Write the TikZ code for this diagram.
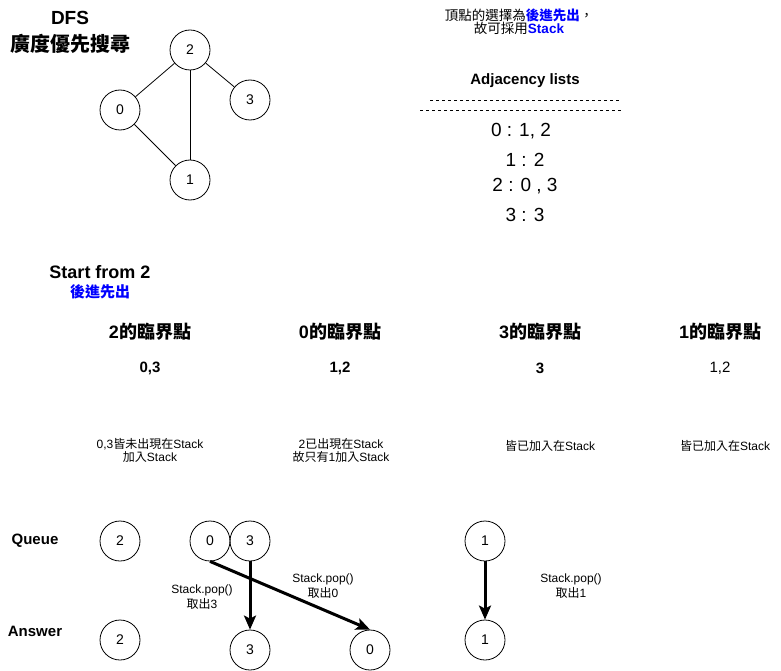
\documentclass[tikz,border=0pt]{standalone}
\usepackage{fontspec}
\setmainfont{Liberation Sans}
\newfontfamily\cjk{Noto Sans CJK TC}
\usetikzlibrary{arrows.meta}
\definecolor{lifo}{RGB}{0,0,255}
\newcommand{\fs}[1]{\fontsize{#1}{#1}\selectfont}
\begin{document}
\begin{tikzpicture}[x=1pt,y=-1pt,
    vertex/.style={circle, draw, line width=0.8pt, minimum size=40pt, inner sep=0pt, font=\fs{14}},
    popline/.style={-{Stealth[length=14pt,width=12pt,inset=3pt]}, line width=3pt},
    note/.style={align=center, font=\fs{12}, inner sep=0pt},
    heading/.style={font=\fs{18}\bfseries, inner sep=0pt}]
    \useasboundingbox (0,0) rectangle (781,671);

    % Titulo
    \node[font=\fs{19}\bfseries, inner sep=0pt] (dfs) at (70,18) {DFS};
    \node[font=\fs{20}\bfseries, inner sep=0pt] (dfszh) at (70,44) {\cjk 廣度優先搜尋};

    % Grafo
    \node[vertex] (g2) at (190,50) {2};
    \node[vertex] (g0) at (120,110) {0};
    \node[vertex] (g3) at (250,100) {3};
    \node[vertex] (g1) at (190,180) {1};
    \draw[line width=0.8pt] (g2) -- (g0);
    \draw[line width=0.8pt] (g2) -- (g3);
    \draw[line width=0.8pt] (g2) -- (g1);
    \draw[line width=0.8pt] (g0) -- (g1);

    % Nota de la pila
    \node[align=center, font=\fs{13.5}, inner sep=0pt] (why) at (519,22)
        {{\cjk 頂點的選擇為{\bfseries\color{lifo}後進先出}，}\\
         {\cjk 故可採用}{\bfseries\color{lifo}Stack}};

    % Listas de adyacencia
    \node[font=\fs{15}\bfseries, inner sep=0pt] (adj) at (525,81) {Adjacency lists};
    \coordinate (d1a) at (430,100); \coordinate (d1b) at (620,100);
    \coordinate (d2a) at (420,110); \coordinate (d2b) at (621,110);
    \draw[dashed, line width=0.6pt, dash pattern=on 3pt off 3pt] (d1a) -- (d1b);
    \draw[dashed, line width=0.6pt, dash pattern=on 3pt off 3pt] (d2a) -- (d2b);
    \node[font=\fs{19}, inner sep=0pt] (l0) at (521,131) {0 : 1, 2};
    \node[font=\fs{19}, inner sep=0pt] (l1) at (525,160) {1 : 2};
    \node[font=\fs{19}, inner sep=0pt] (l2) at (525,186) {2 : 0 , 3};
    \node[font=\fs{19}, inner sep=0pt] (l3) at (525,215) {3 : 3};

    % Inicio
    \node[font=\fs{18}\bfseries, inner sep=0pt] (start) at (100,272) {Start from 2};
    \node[font=\fs{15}\bfseries, inner sep=0pt, text=lifo] (startzh) at (100,292) {\cjk 後進先出};

    % Vecinos de cada vertice
    \node[heading] (h2) at (150,332) {2{\cjk 的臨界點}};
    \node[heading] (h0) at (340,332) {0{\cjk 的臨界點}};
    \node[heading] (h3) at (540,332) {3{\cjk 的臨界點}};
    \node[heading] (h1) at (720,332) {1{\cjk 的臨界點}};
    \node[font=\fs{15}\bfseries, inner sep=0pt] (n2) at (150,368) {0,3};
    \node[font=\fs{15}\bfseries, inner sep=0pt] (n0) at (340,368) {1,2};
    \node[font=\fs{15}\bfseries, inner sep=0pt] (n3) at (540,368) {3};
    \node[font=\fs{15}, inner sep=0pt] (n1) at (720,368) {1,2};
    \node[note] (c2) at (150,450) {0,3{\cjk 皆未出現在}Stack\\[1pt]{\cjk 加入}Stack};
    \node[note] (c0) at (341,450) {2{\cjk 已出現在}Stack\\[1pt]{\cjk 故只有}1{\cjk 加入}Stack};
    \node[note] (c3) at (550,446) {{\cjk 皆已加入在}Stack};
    \node[note] (c1) at (725,446) {{\cjk 皆已加入在}Stack};

    % Pila y respuesta
    \node[font=\fs{15}\bfseries, inner sep=0pt] (queue) at (35,541) {Queue};
    \node[font=\fs{15}\bfseries, inner sep=0pt] (answer) at (35,631) {Answer};
    \node[vertex] (q2) at (120,541) {2};
    \node[vertex] (q0) at (210,541) {0};
    \node[vertex] (q3) at (250,541) {3};
    \node[vertex] (q1) at (485,541) {1};
    \node[vertex] (a2) at (120,640) {2};
    \node[vertex] (a3) at (250,650) {3};
    \node[vertex] (a0) at (370,650) {0};
    \node[vertex] (a1) at (485,640) {1};
    \draw[popline] (q3) -- (a3);
    \draw[popline] (q0.south) -- (a0.north);
    \draw[popline] (q1) -- (a1);

    % Etiquetas de pop
    \node[note] (p3) at (202,597) {Stack.pop()\\[1pt]{\cjk 取出}3};
    \node[note] (p0) at (323,586) {Stack.pop()\\[1pt]{\cjk 取出}0};
    \node[note] (p1) at (571,586) {Stack.pop()\\[1pt]{\cjk 取出}1};
\end{tikzpicture}
\end{document}
